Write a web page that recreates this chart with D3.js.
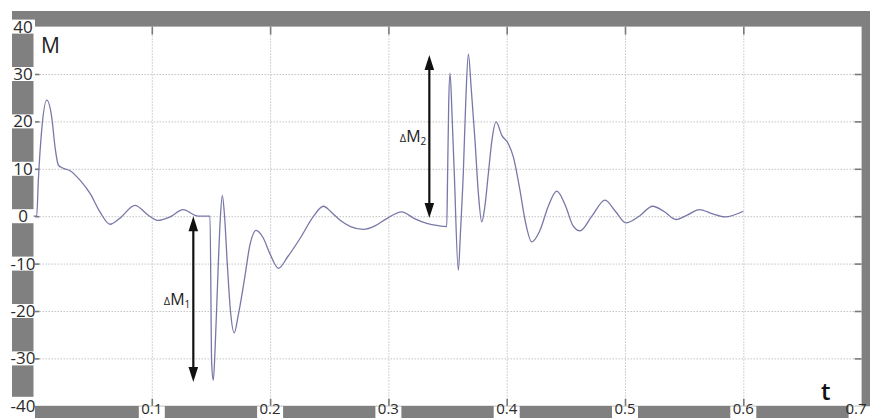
<!DOCTYPE html>
<html>
<head>
<meta charset="utf-8">
<script src="https://cdn.jsdelivr.net/npm/d3@7"></script>
<style>
  html, body { margin: 0; padding: 0; background: #fff; }
  svg { display: block; }
</style>
</head>
<body>
<svg id="chart" width="870" height="418"></svg>
<script>
// Moment M over time t
const tValues = [
  0.000, 0.0027, 0.0041, 0.0069, 0.0112, 0.0154, 0.0182, 0.0210, 0.0252, 0.0309,
  0.0393, 0.0478, 0.0562, 0.0647, 0.0731, 0.0858, 0.0970, 0.1055, 0.1150, 0.1266,
  0.1365, 0.1410, 0.1492, 0.1506, 0.1520, 0.1535, 0.1557, 0.1578, 0.1596, 0.1615,
  0.1638, 0.1665, 0.1697, 0.1730, 0.1782, 0.1830, 0.1881, 0.1940, 0.2000, 0.2070,
  0.2150, 0.2253, 0.2365, 0.2450, 0.2520, 0.2590, 0.2680, 0.2788, 0.2890, 0.2986,
  0.3112, 0.3220, 0.3324, 0.3420, 0.3493, 0.3500, 0.3510, 0.3521, 0.3540, 0.3557,
  0.3591, 0.3610, 0.3633, 0.3655, 0.3676, 0.3700, 0.3732, 0.3760, 0.3789, 0.3815,
  0.3845, 0.3875, 0.3910, 0.3960, 0.4014, 0.4056, 0.4112, 0.4155, 0.4211, 0.4281,
  0.4350, 0.4423, 0.4500, 0.4560, 0.4620, 0.4720, 0.4831, 0.4920, 0.5008, 0.5120,
  0.5234, 0.5330, 0.5431, 0.5530, 0.5628, 0.5740, 0.5845, 0.6000
];
const mValues = [
  0.0, 0.0, 7.6, 18.1, 24.5, 20.9, 14.6, 10.8, 10.1, 9.6,
  7.6, 4.8, 0.9, -1.7, -0.4, 2.3, 0.2, -0.9, -0.2, 1.4,
  0.2, 0.0, 0.0, -31.0, -34.6, -28.0, -13.5, -1.0, 4.4, 0.0,
  -10.0, -20.0, -24.6, -21.0, -13.5, -6.0, -3.0, -4.5, -8.0, -11.0,
  -8.5, -4.7, -0.1, 2.1, 0.8, -0.8, -2.2, -2.8, -2.0, -0.5,
  0.9, -0.5, -1.5, -2.0, -2.2, 8.0, 24.0, 30.2, 20.0, 9.0,
  -11.4, -3.0, 9.0, 25.0, 34.2, 27.0, 16.0, 5.0, -1.2, 2.0,
  9.0, 16.0, 19.9, 17.0, 15.3, 12.5, 5.5, -0.8, -5.4, -3.0,
  2.0, 5.3, 2.0, -2.0, -3.1, 0.0, 3.4, 1.0, -1.4, 0.0,
  2.1, 1.0, -0.7, 0.3, 1.4, 0.5, -0.15, 1.05
];

// Axis ticks and labels
const xTicks = [0.1, 0.2, 0.3, 0.4, 0.5, 0.6, 0.7];
const xTickLabels = ["0.1", "0.2", "0.3", "0.4", "0.5", "0.6", "0.7"];
const yTicks = [40, 30, 20, 10, 0, -10, -20, -30, -40];
const yTickLabels = ["40", "30", "20", "10", "0", "-10", "-20", "-30", "-40"];

// Amplitude markers ΔM1 and ΔM2
const arrowT = [0.1351, 0.3346];
const arrowFrom = [0, 34];
const arrowTo = [-35, -0.4];
const arrowSub = ["1", "2"];

const svg = d3.select("#chart");
const W = 870, H = 418;
const frameLeft = 12, frameTop = 11;

const x = d3.scaleLinear().domain([0, 0.7]).range([33.5, 861.6]);
const y = d3.scaleLinear().domain([-40, 40]).range([405.8, 26.6]);
const [px0, px1] = x.range();
const [py1, py0] = y.range();

const FONT = "'Open Sans', 'DejaVu Sans', sans-serif";
const FRAME = "#808080";

// gray frame
svg.append("rect")
  .attr("x", frameLeft).attr("y", frameTop)
  .attr("width", W - frameLeft).attr("height", H - frameTop)
  .attr("fill", FRAME);

// white plotting area
svg.append("rect")
  .attr("x", px0).attr("y", py0)
  .attr("width", px1 - px0).attr("height", py1 - py0)
  .attr("fill", "#fff");

// dotted grid
const grid = svg.append("g").attr("class", "grid");
grid.append("g")
  .attr("transform", `translate(0,${py1})`)
  .call(d3.axisBottom(x).tickValues(xTicks.filter(v => v < 0.7))
    .tickSize(-(py1 - py0)).tickFormat(""));
grid.append("g")
  .attr("transform", `translate(${px0},0)`)
  .call(d3.axisLeft(y).tickValues(yTicks.filter(v => v > -40 && v < 40))
    .tickSize(-(px1 - px0)).tickFormat(""));
grid.selectAll(".domain").remove();
grid.selectAll("line")
  .attr("stroke", "#c4c4c4")
  .attr("stroke-width", 1)
  .attr("stroke-dasharray", "1.5,1.5");

// short tick marks on all four sides, pointing inward
const tickG = svg.append("g").attr("class", "ticks");
const innerX = xTicks.filter(v => v < 0.7);
const innerY = yTicks.filter(v => v > -40 && v < 40);
tickG.append("g").attr("transform", `translate(0,${py0})`)
  .call(d3.axisTop(x).tickValues(innerX).tickSize(-8).tickFormat(""));
tickG.append("g").attr("transform", `translate(0,${py1})`)
  .call(d3.axisBottom(x).tickValues(innerX).tickSize(-7).tickFormat(""));
tickG.append("g").attr("transform", `translate(${px0},0)`)
  .call(d3.axisLeft(y).tickValues(innerY).tickSize(-6).tickFormat(""));
tickG.append("g").attr("transform", `translate(${px1},0)`)
  .call(d3.axisRight(y).tickValues(innerY).tickSize(-7).tickFormat(""));
tickG.selectAll(".domain").remove();
tickG.selectAll("line").attr("stroke", "#7a7a7a").attr("stroke-width", 1.6);

// y tick labels on white patches over the frame
const yLab = svg.append("g");
yTicks.forEach((v, i) => {
  const cy = y(v);
  let top = cy - 7, bottom = cy + 7;
  if (v === -40) { top = cy - 9; bottom = H; }
  yLab.append("rect")
    .attr("x", frameLeft).attr("y", top)
    .attr("width", px0 - frameLeft + 1.5).attr("height", bottom - top)
    .attr("fill", "#fff");
  yLab.append("text")
    .attr("x", 23).attr("y", cy + 6)
    .attr("text-anchor", "middle")
    .attr("font-family", FONT).attr("font-size", 17)
    .attr("fill", "#2a2a2a")
    .text(yTickLabels[i]);
});

// x tick labels
const xLab = svg.append("g");
xTicks.forEach((v, i) => {
  const cx = x(v);
  xLab.append("rect")
    .attr("x", cx - 13).attr("y", py1 + 0.5)
    .attr("width", 26).attr("height", H - py1)
    .attr("fill", "#fff");
  xLab.append("text")
    .attr("x", Math.min(cx, W - 14)).attr("y", 414)
    .attr("text-anchor", "middle")
    .attr("font-family", FONT).attr("font-size", 15)
    .attr("fill", "#2a2a2a")
    .text(xTickLabels[i]);
});

// axis names
svg.append("text")
  .attr("x", 41).attr("y", 52.5)
  .attr("font-family", FONT).attr("font-size", 21)
  .attr("fill", "#222")
  .text("M");
svg.append("text")
  .attr("x", 821).attr("y", 400)
  .attr("font-family", FONT).attr("font-size", 24).attr("font-weight", 600)
  .attr("fill", "#111")
  .text("t");

// the moment curve
const series = tValues.map((t, i) => ({ t, m: mValues[i] }));
const line = d3.line()
  .x(d => x(d.t))
  .y(d => y(d.m))
  .curve(d3.curveMonotoneX);
svg.append("path")
  .datum(series)
  .attr("d", line)
  .attr("fill", "none")
  .attr("stroke", "#7878a8")
  .attr("stroke-width", 1.3)
  .attr("stroke-linejoin", "round");

// double-headed amplitude arrows with labels
const arrows = svg.append("g");
const headLen = 15, headHalf = 4.8;
arrowT.forEach((t, i) => {
  const ax = x(t);
  const yA = y(arrowFrom[i]);
  const yB = y(arrowTo[i]);
  const top = Math.min(yA, yB), bot = Math.max(yA, yB);
  arrows.append("line")
    .attr("x1", ax).attr("x2", ax)
    .attr("y1", top + headLen - 1).attr("y2", bot - headLen + 1)
    .attr("stroke", "#111").attr("stroke-width", 2.2);
  arrows.append("path")
    .attr("d", `M${ax},${top} L${ax - headHalf},${top + headLen} L${ax + headHalf},${top + headLen} Z`)
    .attr("fill", "#111");
  arrows.append("path")
    .attr("d", `M${ax},${bot} L${ax - headHalf},${bot - headLen} L${ax + headHalf},${bot - headLen} Z`)
    .attr("fill", "#111");
  const ly = (top + bot) / 2 + 5.5;
  const lab = arrows.append("text")
    .attr("x", ax - 3).attr("y", ly)
    .attr("text-anchor", "end")
    .attr("font-family", FONT).attr("fill", "#222");
  lab.append("tspan").attr("font-size", 11).text("Δ");
  lab.append("tspan").attr("font-size", 16).text("M");
  lab.append("tspan").attr("font-size", 10).attr("dy", 3).text(arrowSub[i]);
});
</script>
</body>
</html>
